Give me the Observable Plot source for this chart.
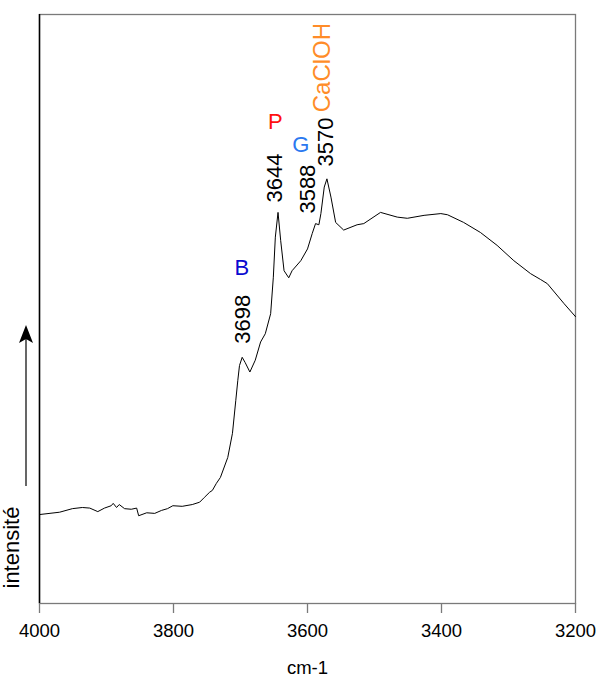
<!DOCTYPE html>
<html>
<head>
<meta charset="utf-8">
<script src="https://cdn.jsdelivr.net/npm/d3@7"></script>
<script src="https://cdn.jsdelivr.net/npm/@observablehq/plot@0.6"></script>
<style>
  html, body { margin: 0; padding: 0; background: #fff; }
  #chart svg { display: block; }
</style>
</head>
<body>
<div id="chart"></div>
<script>
// Spectrum readings (wavenumber cm-1, intensity a.u.)
const wavenumber = [4000, 3970, 3951, 3936, 3925, 3913, 3903, 3893, 3890, 3885, 3881, 3873, 3863, 3855, 3852,
  3840, 3828, 3818, 3809, 3801, 3787, 3772, 3761, 3754, 3746, 3742, 3736, 3730, 3719, 3712, 3707, 3704,
  3701.5, 3697.5, 3693, 3686, 3678, 3670, 3663, 3655, 3651, 3648, 3644, 3640, 3635, 3628, 3623, 3610,
  3600, 3593, 3588, 3583, 3580, 3575, 3571, 3565, 3558, 3546, 3526, 3516, 3491, 3466, 3451, 3426, 3401,
  3391, 3367, 3342, 3317, 3292, 3267, 3252, 3242, 3217, 3200];
const intensity = [15.1, 15.5, 16.1, 16.3, 16.2, 15.6, 16.2, 16.6, 17.0, 16.3, 16.8, 16.1, 16.0, 16.2, 14.9,
  15.4, 15.3, 15.8, 16.1, 16.6, 16.5, 16.8, 17.2, 18.0, 18.9, 19.2, 20.4, 21.4, 24.8, 28.9, 34.5, 37.9,
  40.4, 41.8, 40.9, 39.3, 41.3, 44.4, 45.8, 49.2, 55.4, 62.2, 66.4, 61.6, 56.5, 55.3, 56.5, 58.2,
  60.2, 62.8, 64.5, 64.3, 66.2, 70.7, 72.1, 69.0, 64.7, 63.4, 64.3, 64.5, 66.4, 65.6, 65.4, 65.9, 66.2,
  66.0, 64.7, 63.0, 60.8, 58.2, 56.0, 55.0, 54.3, 50.9, 48.7];

// Peak labels (text, anchor wavenumber, anchor intensity)
const peakText = ["3698", "3644", "3588", "3570"];
const peakX = [3697, 3648, 3599, 3573];
const peakY = [44.1, 68.1, 66.2, 74.2];

// Assignment letters
const letterText = ["B", "P", "G", "CaClOH"];
const letterX = [3698, 3648, 3610, 3578];
const letterY = [57.0, 81.8, 77.9, 83.4];
const letterColor = ["#0a0ad0", "#ff1010", "#2b78f0", "#ff8c28"];

const xTicks = [4000, 3800, 3600, 3400, 3200];

const spectrum = wavenumber.map((w, i) => ({w, v: intensity[i]}));
const peaks = peakText.map((t, i) => ({t, x: peakX[i], y: peakY[i]}));
const letters = letterText.map((t, i) => ({t, x: letterX[i], y: letterY[i], c: letterColor[i]}));
const single = letters.filter(d => d.t.length === 1);
const rotated = letters.filter(d => d.t.length > 1);

const font = "'Liberation Sans', Arial, Helvetica, sans-serif";

const chart = Plot.plot({
  width: 601,
  height: 684,
  marginLeft: 39,
  marginRight: 26,
  marginTop: 14,
  marginBottom: 81,
  style: {fontFamily: font, background: "#fff"},
  x: {domain: [4000, 3200], ticks: xTicks, label: null},
  y: {domain: [0, 100], axis: null},
  marks: [
    Plot.frame({stroke: "#7a7a7a", strokeWidth: 1.3}),
    Plot.ruleX([4000], {stroke: "#000", strokeWidth: 1.5}),
    Plot.axisX({ticks: xTicks, tickSize: 10, tickPadding: 10, stroke: "#7a7a7a", strokeWidth: 1.3,
      fontSize: 18.5, fill: "#000", tickFormat: d => String(d), label: null}),
    Plot.text(["cm-1"], {frameAnchor: "bottom", dy: 70, fontSize: 18.5, fill: "#000"}),
    Plot.line(spectrum, {x: "w", y: "v", stroke: "#000", strokeWidth: 1}),
    Plot.text(peaks, {x: "x", y: "y", text: "t", rotate: -90, textAnchor: "start", fontSize: 22, fill: "#000"}),
    Plot.text(single, {x: "x", y: "y", text: "t", fontSize: 22, fill: "c"}),
    Plot.text(rotated, {x: "x", y: "y", text: "t", rotate: -90, textAnchor: "start", fontSize: 24, fill: "c"}),
    Plot.text(["intensité"], {frameAnchor: "bottom-left", rotate: -90, textAnchor: "start", dx: -21, dy: -15,
      fontSize: 22, fill: "#000"})
  ]
});

document.getElementById("chart").appendChild(chart);

// long arrow beside the y label
const svg = d3.select(chart);
svg.append("line").attr("x1", 26).attr("x2", 26).attr("y1", 486).attr("y2", 335)
  .attr("stroke", "#000").attr("stroke-width", 1.2);
svg.append("path").attr("d", "M26,325 L33,343 L26,339 L19,343 Z").attr("fill", "#000");
</script>
</body>
</html>
